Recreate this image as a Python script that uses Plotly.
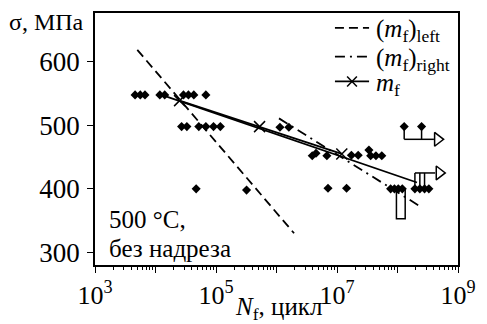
import plotly.graph_objects as go

# ---- data (N in cycles, sigma in MPa) ----
n_failed = [4.6e3, 5.6e3, 6.7e3, 1.18e4, 1.42e4, 2.9e4, 3.5e4, 4.3e4, 6.8e4,
            2.7e4, 3.3e4, 5.2e4, 6.8e4, 9.1e4, 1.18e5, 1.14e6, 1.6e6,
            3.9e6, 4.5e6, 6.8e6, 1.73e7, 2.24e7, 3.37e7, 3.6e7, 4.4e7, 5.5e7,
            4.7e4, 3.2e5, 7.1e6, 1.44e7, 7.7e7, 8.9e7, 1.03e8, 1.2e8,
            1.94e8, 2.34e8, 2.8e8, 3.3e8,
            1.29e8, 2.5e8]
s_failed = [548, 548, 548, 548, 548, 548, 548, 548, 548,
            498, 498, 498, 498, 498, 498, 497, 497,
            452, 456, 452, 453, 453, 461, 452, 452, 452,
            400, 398, 401, 401, 400, 400, 400, 400,
            400, 400, 400, 400,
            498, 498]

# fitted lines
left_n = [5.0e3, 1.95e6]
left_s = [619, 330]
right_n = [1.1e6, 2.4e8]
right_s = [511, 372]
mf_n = [2.5e4, 5.25e5, 1.2e7]
mf_s = [539, 498, 455]
mf_ext_n = [1.26e4, 2.1e8]
mf_ext_s = [548, 410]

# run-out indicators
runA_n = [1.29e8, 2.5e8]
runA_top, runA_base = 498, 478
runA_end, runA_tip = 4.0e8, 4.6e8
runB_n = [1.94e8, 2.34e8, 2.8e8]
runB_bot, runB_top = 400, 425
runB_end, runB_tip = 4.2e8, 4.9e8
runC_n = [9.6e7, 1.34e8]
runC_top, runC_bot = 400, 353

x_tickvals = [1e3, 1e4, 1e5, 1e6, 1e7, 1e8, 1e9]
x_ticktext = ["10<sup>3</sup>", "", "10<sup>5</sup>", "", "10<sup>7</sup>", "", "10<sup>9</sup>"]
y_tickvals = [300, 400, 500, 600]

legend_labels = ["(<i>m</i><sub>f</sub>)<sub>left</sub>",
                 "(<i>m</i><sub>f</sub>)<sub>right</sub>",
                 "<i>m</i><sub>f</sub>"]

FONT = "Liberation Serif, Times New Roman, serif"
BLK = "black"
LW = 1.8
DASH_L = "9px,5px"
DASH_R = "10px,5px,2px,5px"

fig = go.Figure()

fig.add_trace(go.Scatter(x=left_n, y=left_s, mode="lines",
                         line=dict(color=BLK, width=LW, dash=DASH_L), showlegend=False))
fig.add_trace(go.Scatter(x=right_n, y=right_s, mode="lines",
                         line=dict(color=BLK, width=LW, dash=DASH_R), showlegend=False))
fig.add_trace(go.Scatter(x=mf_ext_n, y=mf_ext_s, mode="lines",
                         line=dict(color=BLK, width=LW), showlegend=False))
fig.add_trace(go.Scatter(x=mf_n, y=mf_s, mode="lines+markers",
                         line=dict(color=BLK, width=LW),
                         marker=dict(symbol="x-thin-open", size=11,
                                     line=dict(color=BLK, width=1.5)),
                         showlegend=False))

# run-out A
xa, ya = [], []
for n in runA_n:
    xa += [n, n, None]
    ya += [runA_top, runA_base, None]
xa += [runA_n[0], runA_end]
ya += [runA_base, runA_base]
fig.add_trace(go.Scatter(x=xa, y=ya, mode="lines", line=dict(color=BLK, width=1.5),
                         showlegend=False))
# run-out B
xb, yb = [], []
for n in runB_n:
    xb += [n, n, None]
    yb += [runB_bot, runB_top, None]
xb += [runB_n[0], runB_end]
yb += [runB_top, runB_top]
fig.add_trace(go.Scatter(x=xb, y=yb, mode="lines", line=dict(color=BLK, width=1.5),
                         showlegend=False))
# run-out C
fig.add_trace(go.Scatter(x=[runC_n[0], runC_n[0], runC_n[1], runC_n[1]],
                         y=[runC_top, runC_bot, runC_bot, runC_top],
                         mode="lines", line=dict(color=BLK, width=1.5),
                         showlegend=False))
fig.add_trace(go.Scatter(x=[runA_tip, runB_tip], y=[runA_base, runB_top], mode="markers",
                         marker=dict(symbol="triangle-right", size=12, color="white",
                                     line=dict(color=BLK, width=1.5)),
                         showlegend=False))

fig.add_trace(go.Scatter(x=n_failed, y=s_failed, mode="markers",
                         marker=dict(symbol="diamond", size=7, color=BLK,
                                     line=dict(width=0)),
                         showlegend=False))

minor_vals = [k * 10 ** e for e in range(3, 9) for k in range(2, 10)]

# ---- manual legend in paper coordinates ----
L_X0, L_X1, L_TX = 0.661, 0.755, 0.768
L_Y = [(265 - 26) / 254, (265 - 55) / 254, (265 - 80) / 254]
shapes = [
    dict(type="line", xref="paper", yref="paper", x0=L_X0, x1=L_X1, y0=L_Y[0], y1=L_Y[0],
         line=dict(color=BLK, width=LW, dash=DASH_L)),
    dict(type="line", xref="paper", yref="paper", x0=L_X0, x1=L_X1, y0=L_Y[1], y1=L_Y[1],
         line=dict(color=BLK, width=LW, dash=DASH_R)),
    dict(type="line", xref="paper", yref="paper", x0=L_X0, x1=L_X1, y0=L_Y[2], y1=L_Y[2],
         line=dict(color=BLK, width=LW)),
]
xm = (L_X0 + L_X1) / 2
dx, dy = 5 / 371.3, 5 / 254
shapes += [
    dict(type="line", xref="paper", yref="paper", x0=xm - dx, x1=xm + dx,
         y0=L_Y[2] - dy, y1=L_Y[2] + dy, line=dict(color=BLK, width=1.5)),
    dict(type="line", xref="paper", yref="paper", x0=xm - dx, x1=xm + dx,
         y0=L_Y[2] + dy, y1=L_Y[2] - dy, line=dict(color=BLK, width=1.5)),
]

annotations = [
    dict(text=lab, xref="paper", yref="paper", x=L_TX, y=yy - 0.012,
         xanchor="left", yanchor="middle", showarrow=False,
         font=dict(size=25, family=FONT))
    for lab, yy in zip(legend_labels, L_Y)
]
annotations += [
    dict(text="σ, МПа", xref="paper", yref="paper", x=-0.026, y=0.965,
         xanchor="right", yanchor="middle", showarrow=False,
         font=dict(size=24, family=FONT)),
    dict(text="<i>N</i><sub>f</sub>, цикл", xref="paper", yref="paper",
         x=(282 - 94.7) / 371.3, y=(265 - 309) / 254, xanchor="center", yanchor="middle",
         showarrow=False, font=dict(size=25, family=FONT)),
    dict(text="500 °C,", xref="paper", yref="paper", x=0.033, y=(265 - 219) / 254,
         xanchor="left", yanchor="middle", showarrow=False,
         font=dict(size=25, family=FONT)),
    dict(text="без надреза", xref="paper", yref="paper", x=0.033, y=(265 - 248) / 254,
         xanchor="left", yanchor="middle", showarrow=False,
         font=dict(size=25, family=FONT)),
]

fig.update_layout(
    width=487, height=324,
    margin=dict(l=95, r=21, t=11, b=59),
    paper_bgcolor="white", plot_bgcolor="white",
    font=dict(family=FONT, size=24, color=BLK),
    showlegend=False,
    xaxis=dict(type="log", range=[3, 9], tickmode="array",
               tickvals=x_tickvals, ticktext=x_ticktext,
               ticks="outside", ticklen=6, tickwidth=1.2, tickcolor=BLK,
               showline=True, linecolor=BLK, linewidth=1.5, mirror=True,
               showgrid=False, zeroline=False,
               minor=dict(tickvals=minor_vals, ticks="outside", ticklen=3,
                          tickwidth=1, tickcolor=BLK, showgrid=False),
               tickfont=dict(size=26, family=FONT)),
    yaxis=dict(range=[280, 677], tickmode="array", tickvals=y_tickvals,
               ticks="outside", ticklen=6, tickwidth=1.2, tickcolor=BLK,
               showline=True, linecolor=BLK, linewidth=1.5, mirror=True,
               showgrid=False, zeroline=False, ticklabelstandoff=2,
               tickfont=dict(size=27, family=FONT)),
    shapes=shapes,
    annotations=annotations,
)

fig.write_html("out.html", config={"displayModeBar": False},
               post_script="document.body.style.margin='0';document.body.style.padding='0';")
